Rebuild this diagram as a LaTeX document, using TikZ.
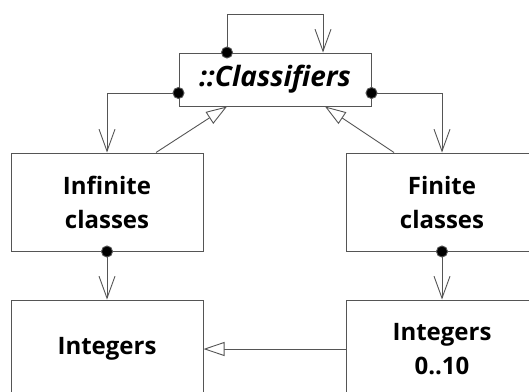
\documentclass[tikz,border=0pt]{standalone}
\usepackage{fontspec}
\setmainfont{Open Sans}
\usetikzlibrary{arrows.meta}
\definecolor{linegray}{RGB}{85,85,85}
\begin{document}
\begin{tikzpicture}[x=1pt, y=-1pt,
    box/.style={draw=linegray, line width=1pt, minimum width=192pt, align=center,
      font=\fontsize{24}{34}\selectfont\bfseries},
    owns/.style={draw=linegray, line width=0.9pt, shorten <=-6pt,
      {Circle[length=12pt, width=12pt, fill=black]}-{Straight Barb[length=22pt, width=16pt]}},
    isa/.style={draw=linegray, line width=0.9pt, -{Triangle[open, length=21pt, width=14pt, fill=white]}}]
    \useasboundingbox (0,0) rectangle (529,391);
    \node[box, minimum width=192pt, minimum height=53pt, font=\fontsize{28}{34}\selectfont\bfseries\itshape] (cls) at (275,79.5) {::Classifiers};
    \node[box, minimum height=98pt] (inf) at (107,202) {Infinite\\classes};
    \node[box, minimum height=98pt] (fin) at (442,202) {Finite\\classes};
    \node[box, minimum height=98pt] (int) at (107,349) {Integers};
    \node[box, minimum height=98pt] (intr) at (442,349) {Integers\\0..10};
    \draw[owns] ([xshift=-48pt]cls.north) -- ++(0,-38) -| ([xshift=48pt]cls.north);
    \draw[owns] ([yshift=-13.5pt]cls.west) -| (inf.north);
    \draw[owns] ([yshift=-13.5pt]cls.east) -| (fin.north);
    \draw[isa] ([xshift=49pt]inf.north) -- ([xshift=-48pt]cls.south);
    \draw[isa] ([xshift=-48pt]fin.north) -- ([xshift=50pt]cls.south);
    \draw[owns] (inf.south) -- (int.north);
    \draw[owns] (fin.south) -- (intr.north);
    \draw[isa] (intr.west) -- (int.east);
\end{tikzpicture}
\end{document}
